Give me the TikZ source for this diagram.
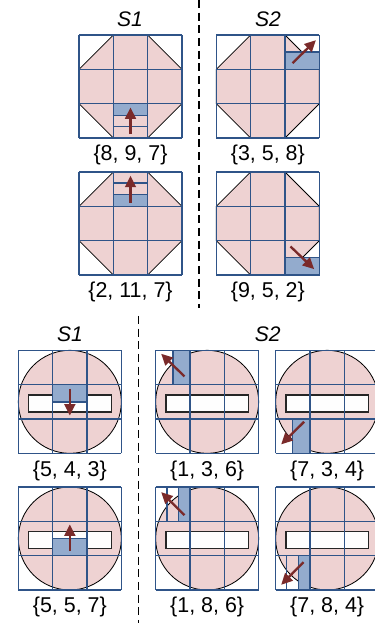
\documentclass[tikz,border=0pt]{standalone}
\usepackage{fontspec}
\setmainfont{Liberation Sans}
\usepackage{tikz}
\usetikzlibrary{arrows.meta, positioning}
\definecolor{shapepink}{HTML}{EED2D2}
\definecolor{hotblue}{HTML}{93ABCD}
\definecolor{gridblue}{HTML}{2F5488}
\definecolor{flowred}{HTML}{7A2A2A}

\begin{document}
\begin{tikzpicture}[
    font=\fontsize{18.3pt}{22pt}\selectfont,
    panel/.style={
        shift={(#1)},
        x=1.03cm,
        y=1.03cm
    },
    body/.style={
        draw=black,
        fill=shapepink,
        line width=0.7pt
    },
    slot/.style={
        draw=black!85,
        fill=white!97!shapepink,
        line width=1.1pt
    },
    gridline/.style={
        draw=gridblue,
        line width=1.2pt
    },
    hot/.style={
        draw=gridblue,
        fill=hotblue,
        line width=1.2pt
    },
    flow/.style={
        -{Triangle[length=3.4mm,width=3.2mm]},
        line width=2pt,
        draw=flowred
    },
    divider/.style={
        draw=black,
        line width=1.3pt,
        dash pattern=on 2.4mm off 1.4mm
    },
    caption/.style={
        inner sep=0pt
    },
    heading/.style={
        font=\fontsize{18pt}{22pt}\selectfont\itshape,
        inner sep=0pt
    }
]

\clip (0,0) rectangle (11.25,18.69);

% ============================================================
% Top: octagon panels
% ============================================================

\foreach \i/\x/\y/\lab/\bl/\bb/\br/\bt/\tx/\ty/\hx/\hy in {
    1/2.37/14.55/{8, 9, 7}/1/0.66/2/1/1.5/0.11/1.5/0.89,
    2/6.49/14.55/{3, 5, 8}/2/2/3/2.5/2.22/2.18/2.9/2.85,
    3/2.37/10.44/{2, 11, 7}/1/2/2/2.35/1.5/2.11/1.5/2.89,
    4/6.49/10.44/{9, 5, 2}/2/0/3/0.51/2.16/0.83/2.85/0.17} {
    \coordinate (p\i) at (\x,\y);
    \begin{scope}[panel={p\i}]
        \draw[body] (1,0) -- (2,0) -- (3,1) -- (3,2) -- (2,3) -- (1,3) -- (0,2) -- (0,1) -- cycle;
        \foreach \k in {0,...,3} {
            \draw[gridline] (\k,0) -- (\k,3);
            \draw[gridline] (0,\k) -- (3,\k);
        }
        \draw[hot] (\bl,\bb) rectangle (\br,\bt);
        \coordinate (t\i) at (\tx,\ty);
        \coordinate (h\i) at (\hx,\hy);
        \node[caption] (cap\i) at (1.5,-0.5) {\{\lab\}};
    \end{scope}
}

% ============================================================
% Bottom: round panels with slot
% ============================================================

\foreach \i/\x/\y/\lab/\bl/\bb/\br/\bt/\tx/\ty/\hx/\hy in {
    5/0.55/5.09/{5, 4, 3}/1/1.5/2/2/1.5/1.88/1.5/1.1,
    6/0.55/0.99/{5, 5, 7}/1/1/2/1.5/1.5/1.13/1.5/1.91,
    7/4.67/5.09/{1, 3, 6}/0.5/2/1/3/0.84/2.24/0.16/2.9,
    8/8.27/5.09/{7, 3, 4}/0.49/0/1/1/0.83/0.92/0.16/0.26,
    9/4.67/0.99/{1, 8, 6}/0.66/2/1/3/0.84/2.18/0.16/2.85,
    10/8.27/0.99/{7, 8, 4}/0.66/0/1/1/0.81/0.81/0.16/0.15} {
    \coordinate (p\i) at (\x,\y);
    \begin{scope}[panel={p\i}]
        \draw[body] (1.5,1.5) circle[radius=1.5];
        \draw[slot] (0.3,1.2) rectangle (2.71,1.7);
        \foreach \k in {0,...,3} {
            \draw[gridline] (\k,0) -- (\k,3);
            \draw[gridline] (0,\k) -- (3,\k);
        }
        \draw[hot] (\bl,\bb) rectangle (\br,\bt);
        \coordinate (t\i) at (\tx,\ty);
        \coordinate (h\i) at (\hx,\hy);
        \node[caption] (cap\i) at (1.5,-0.5) {\{\lab\}};
    \end{scope}
}

% extra cuts inside the cells
\begin{scope}[panel={p1}]
    \draw[gridline] (1,0.33) -- (2,0.33);
\end{scope}
\begin{scope}[panel={p3}]
    \draw[gridline] (1,2.68) -- (2,2.68);
\end{scope}
\begin{scope}[panel={p9}]
    \draw[gridline] (0.33,2) -- (0.33,3);
\end{scope}
\begin{scope}[panel={p10}]
    \draw[gridline] (0.32,0) -- (0.32,1);
\end{scope}

\foreach \i in {1,...,10} {
    \draw[flow] (t\i) -- (h\i);
}

% ============================================================
% Headings and dashed dividers
% ============================================================

\node[heading] (headA) at (3.9,18.12) {S1};
\node[heading] (headB) at (8.04,18.12) {S2};
\node[heading] (headC) at (2.1,8.67) {S1};
\node[heading] (headD) at (8.03,8.67) {S2};

\coordinate (divA) at (5.97,18.69);
\coordinate (divB) at (5.97,9.45);
\coordinate (divC) at (4.15,9.21);
\coordinate (divD) at (4.15,0);
\draw[divider] (divA) -- (divB);
\draw[divider] (divC) -- (divD);
\end{tikzpicture}
\end{document}
